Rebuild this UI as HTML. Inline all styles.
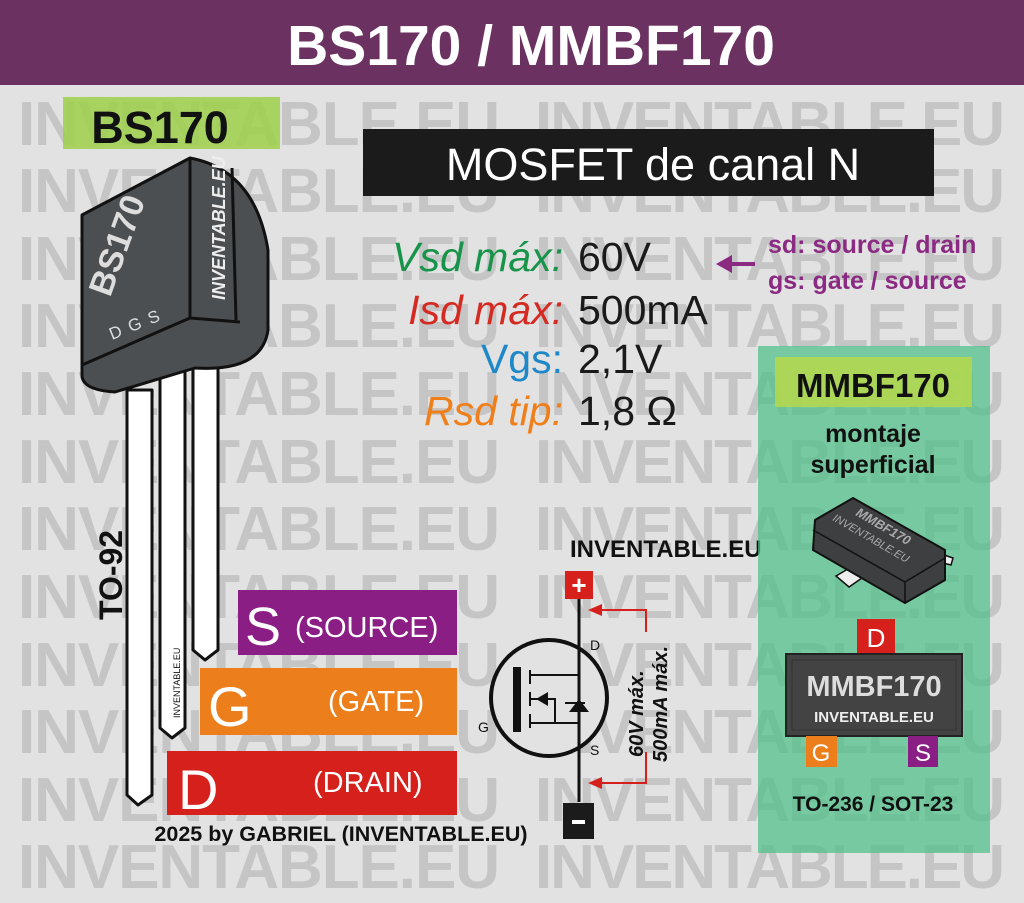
<!DOCTYPE html>
<html><head><meta charset="utf-8"><style>
html,body{margin:0;padding:0;background:#e2e2e2;}
svg{display:block;font-family:"Liberation Sans",sans-serif;}
</style></head><body>
<svg width="1024" height="903" viewBox="0 0 1024 903" xmlns="http://www.w3.org/2000/svg">
<rect width="1024" height="903" fill="#e2e2e2"/>
<g font-weight="bold" font-size="62" fill="#c5c5c5">
<text x="18" y="145" textLength="482">INVENTABLE.EU</text><text x="535" y="145" textLength="470">INVENTABLE.EU</text>
<text x="18" y="212" textLength="482">INVENTABLE.EU</text><text x="535" y="212" textLength="470">INVENTABLE.EU</text>
<text x="18" y="280" textLength="482">INVENTABLE.EU</text><text x="535" y="280" textLength="470">INVENTABLE.EU</text>
<text x="18" y="347" textLength="482">INVENTABLE.EU</text><text x="535" y="347" textLength="470">INVENTABLE.EU</text>
<text x="18" y="415" textLength="482">INVENTABLE.EU</text><text x="535" y="415" textLength="470">INVENTABLE.EU</text>
<text x="18" y="483" textLength="482">INVENTABLE.EU</text><text x="535" y="483" textLength="470">INVENTABLE.EU</text>
<text x="18" y="550" textLength="482">INVENTABLE.EU</text><text x="535" y="550" textLength="470">INVENTABLE.EU</text>
<text x="18" y="618" textLength="482">INVENTABLE.EU</text><text x="535" y="618" textLength="470">INVENTABLE.EU</text>
<text x="18" y="686" textLength="482">INVENTABLE.EU</text><text x="535" y="686" textLength="470">INVENTABLE.EU</text>
<text x="18" y="753" textLength="482">INVENTABLE.EU</text><text x="535" y="753" textLength="470">INVENTABLE.EU</text>
<text x="18" y="821" textLength="482">INVENTABLE.EU</text><text x="535" y="821" textLength="470">INVENTABLE.EU</text>
<text x="18" y="888" textLength="482">INVENTABLE.EU</text><text x="535" y="888" textLength="470">INVENTABLE.EU</text>
</g>
<!-- header -->
<rect x="0" y="0" width="1024" height="85" fill="#6b3161"/>
<text x="531" y="65" text-anchor="middle" font-size="57" font-weight="bold" fill="#fff">BS170 / MMBF170</text>
<!-- BS170 label -->
<rect x="63" y="97" width="217" height="52" fill="#9ed04a" opacity="0.85"/>
<text x="160" y="143" text-anchor="middle" font-size="45" font-weight="bold" fill="#111">BS170</text>
<!-- MOSFET title -->
<rect x="363" y="129" width="571" height="67" fill="#1b1b1b"/>
<text x="653" y="180" text-anchor="middle" font-size="45" fill="#fff">MOSFET de canal N</text>
<!-- specs -->
<g font-size="41">
<text x="563" y="271" text-anchor="end" font-style="italic" fill="#17944a">Vsd máx:</text>
<text x="578" y="271" fill="#1a1a1a">60V</text>
<text x="563" y="324" text-anchor="end" font-style="italic" fill="#d42a22">Isd máx:</text>
<text x="578" y="324" fill="#1a1a1a">500mA</text>
<text x="563" y="373" text-anchor="end" fill="#1e88c8">Vgs:</text>
<text x="578" y="373" fill="#1a1a1a">2,1V</text>
<text x="563" y="425" text-anchor="end" font-style="italic" fill="#ef7f1a">Rsd tip:</text>
<text x="578" y="425" fill="#1a1a1a">1,8 Ω</text>
</g>
<path d="M720 264 L755 264" stroke="#8a2a82" stroke-width="4"/>
<polygon points="716,264 732,255 732,273" fill="#8a2a82"/>
<g font-size="25" font-weight="bold" fill="#8a2a82">
<text x="768" y="253">sd: source / drain</text>
<text x="768" y="289">gs: gate / source</text>
</g>
<!-- TO-92 body -->
<g stroke="#111" stroke-width="3" stroke-linejoin="round">
<path d="M127 390 L127 795 L138 805 L152 795 L152 390 Z" fill="#fff"/>
<path d="M160 370 L160 728 L172 738 L185 728 L185 370 Z" fill="#fff"/>
<path d="M193 345 L193 650 L205 660 L218 650 L218 345 Z" fill="#fff"/>
<path d="M82 215 L190 158 Q255 170 268 250 L268 330 Q262 372 195 368 L115 392 Q82 390 82 375 Z" fill="#4b4f52"/>
<path d="M190 158 L190 318 L82 365" fill="none"/>
<path d="M190 318 L240 322" fill="none"/>
<path d="M232 168 L236 320" fill="none"/>
</g>
<text transform="translate(110,298) rotate(-70)" font-size="34" font-weight="bold" fill="#ddd">BS170</text>
<text transform="translate(112,340) rotate(-22)" font-size="17" fill="#ddd" letter-spacing="8">DGS</text>
<text transform="translate(225,300) rotate(-90)" font-size="18" font-weight="bold" font-style="italic" fill="#eee">INVENTABLE.EU</text>
<text transform="translate(122,620) rotate(-90)" font-size="32" font-weight="bold" fill="#111">TO-92</text>
<text transform="translate(180,718) rotate(-90)" font-size="9" fill="#111">INVENTABLE.EU</text>
<!-- pin boxes -->
<rect x="238" y="590" width="219" height="65" fill="#8b1e84"/>
<text x="245" y="645" font-size="54" fill="#fff">S</text>
<text x="295" y="637" font-size="29" fill="#fff">(SOURCE)</text>
<rect x="200" y="668" width="257" height="67" fill="#ec7e1c"/>
<text x="208" y="726" font-size="56" fill="#fff">G</text>
<text x="328" y="711" font-size="29" fill="#fff">(GATE)</text>
<rect x="167" y="751" width="290" height="64" fill="#d6201c"/>
<text x="178" y="809" font-size="56" fill="#fff">D</text>
<text x="313" y="792" font-size="29" fill="#fff">(DRAIN)</text>
<text x="341" y="841" text-anchor="middle" font-size="21.5" font-weight="bold" fill="#111">2025 by GABRIEL (INVENTABLE.EU)</text>
<!-- schematic -->
<text x="570" y="557" font-size="24" font-weight="bold" fill="#111">INVENTABLE.EU</text>
<rect x="565" y="571" width="28" height="28" fill="#d6201c"/>
<text x="579" y="594" text-anchor="middle" font-size="26" font-weight="bold" fill="#fff">+</text>
<circle cx="549" cy="698" r="58" fill="#e2e2e2" stroke="#111" stroke-width="4"/>
<line x1="579" y1="599" x2="579" y2="802" stroke="#111" stroke-width="3"/>
<rect x="513" y="667" width="8" height="65" fill="#111"/>
<g stroke="#111" stroke-width="2" fill="none">
<path d="M530 670 L530 684 M530 692 L530 706 M530 714 L530 728"/>
<path d="M530 675 L579 675 M530 723 L579 723 M530 699 L555 699 L555 723"/>
<path d="M565 703 L585 703"/>
</g>
<polygon points="536,699 548,692 548,706" fill="#111"/>
<polygon points="569,712 589,712 579,699" fill="#111"/>
<text x="590" y="650" font-size="14" fill="#111">D</text>
<text x="590" y="755" font-size="14" fill="#111">S</text>
<text x="478" y="732" font-size="14" fill="#111">G</text>
<path d="M600 610 L646 610 L646 632 M646 752 L646 783 L600 783" stroke="#d6201c" stroke-width="2" fill="none"/>
<polygon points="588,610 602,604 602,616" fill="#d6201c"/>
<polygon points="588,783 602,777 602,789" fill="#d6201c"/>
<text transform="translate(643,757) rotate(-90)" font-size="20" font-weight="bold" font-style="italic" fill="#111">60V máx.</text>
<text transform="translate(667,762) rotate(-90)" font-size="20" font-weight="bold" font-style="italic" fill="#111">500mA máx.</text>
<rect x="563" y="803" width="31" height="36" fill="#1b1b1b"/>
<rect x="572" y="820" width="13" height="4" fill="#fff"/>
<!-- green panel -->
<rect x="758" y="346" width="232" height="507" fill="#4cbf86" opacity="0.72"/>
<rect x="775" y="357" width="197" height="50" fill="#b5d84a" opacity="0.85"/>
<text x="873" y="397" text-anchor="middle" font-size="33" font-weight="bold" fill="#111">MMBF170</text>
<text x="873" y="442" text-anchor="middle" font-size="25" font-weight="bold" fill="#111">montaje</text>
<text x="873" y="473" text-anchor="middle" font-size="25" font-weight="bold" fill="#111">superficial</text>
<!-- SOT-23 3D -->
<path d="M836 576 L853 566 L862 578 L849 587 Z" fill="#eee" stroke="#111" stroke-width="1.5"/>
<path d="M944 555 L953 558 L951 565 L943 563 Z" fill="#eee" stroke="#111" stroke-width="1.5"/>
<path d="M815 520 L853 498 L945 550 L945 580 L905 603 L813 550 Z" fill="#3d3f41" stroke="#111" stroke-width="2"/>
<path d="M813 530 L905 582 L945 558 M905 582 L905 603" stroke="#111" stroke-width="1.5" fill="none"/>
<text transform="translate(855,515) rotate(30)" font-size="13" font-weight="bold" font-style="italic" fill="#aaa">MMBF170</text>
<text transform="translate(832,520) rotate(30)" font-size="11" font-style="italic" fill="#aaa">INVENTABLE.EU</text>
<!-- top view -->
<rect x="857" y="619" width="38" height="34" fill="#d6201c"/>
<text x="876" y="647" text-anchor="middle" font-size="26" fill="#fff">D</text>
<rect x="786" y="654" width="176" height="82" fill="#434343" stroke="#222" stroke-width="2"/>
<rect x="792" y="660" width="164" height="70" fill="none" stroke="#333" stroke-width="1"/>
<text x="874" y="696" text-anchor="middle" font-size="29" font-weight="bold" fill="#ddd">MMBF170</text>
<text x="874" y="722" text-anchor="middle" font-size="15" font-weight="bold" fill="#eee">INVENTABLE.EU</text>
<rect x="806" y="736" width="31" height="31" fill="#ec7e1c"/>
<text x="821" y="761" text-anchor="middle" font-size="24" fill="#fff">G</text>
<rect x="908" y="736" width="30" height="31" fill="#8b1e84"/>
<text x="923" y="761" text-anchor="middle" font-size="24" fill="#fff">S</text>
<text x="873" y="811" text-anchor="middle" font-size="21" font-weight="bold" fill="#111">TO-236 / SOT-23</text>
</svg>
</body></html>
